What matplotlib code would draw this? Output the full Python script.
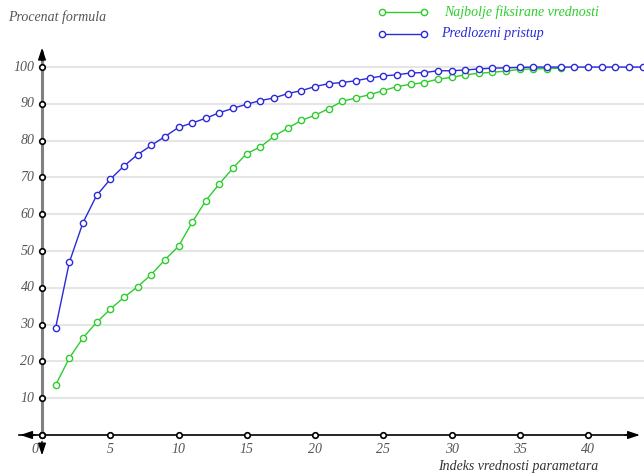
import matplotlib
matplotlib.use('Agg')
import matplotlib.pyplot as plt
from matplotlib.lines import Line2D
import numpy as np

plt.rcParams['font.family'] = ['Liberation Serif', 'DejaVu Serif']

# data
fixed_x = list(range(1, 39))
fixed_y = [13.6, 20.9, 26.4, 30.6, 34.2, 37.4, 40.3, 43.6, 47.6, 51.3,
           57.8, 63.7, 68.3, 72.6, 76.5, 78.3, 81.2, 83.4, 85.5, 86.9,
           88.7, 90.7, 91.6, 92.5, 93.6, 94.7, 95.3, 95.8, 96.7, 97.2,
           97.9, 98.3, 98.6, 98.9, 99.4, 99.5, 99.6, 99.7]
proposed_x = list(range(1, 45))
proposed_y = [29.2, 46.9, 57.7, 65.1, 69.5, 73.1, 76.2, 78.7, 81.1, 83.6,
              84.8, 86.1, 87.6, 88.8, 89.9, 90.9, 91.6, 92.8, 93.6, 94.7,
              95.5, 95.8, 96.3, 97.0, 97.6, 97.9, 98.4, 98.5, 99.0, 99.0,
              99.2, 99.5, 99.7, 99.8, 99.9, 100, 100, 100, 100, 100,
              100, 100, 100, 100]
x_ticks = [0, 5, 10, 15, 20, 25, 30, 35, 40]
y_ticks = [0, 10, 20, 30, 40, 50, 60, 70, 80, 90, 100]

green = '#2ecc2e'
blue = '#2a2ad8'
label_col = '#555555'
fs = 10

W, H = 644, 473
fig = plt.figure(figsize=(W / 100, H / 100), dpi=100)
ax = fig.add_axes([42 / W, (H - 435) / H, (W - 42) / W, (435 - 45) / H])
ax.set_xlim(0, 44.1)
ax.set_ylim(0, 106)
ax.axis('off')

# horizontal grid
for v in y_ticks[1:]:
    ax.plot([0, 44.1], [v, v], color='#e6e6e6', lw=1.5, zorder=1, clip_on=False)

# series
ax.plot(fixed_x, fixed_y, color=green, lw=1, marker='o', ms=4.5,
        mfc='white', mec=green, mew=1, zorder=3, clip_on=False)
ax.plot(proposed_x, proposed_y, color=blue, lw=1, marker='o', ms=4.5,
        mfc='white', mec=blue, mew=1, zorder=4, clip_on=False)

# axes with arrows
arrow = dict(arrowstyle='-|>,head_length=0.6,head_width=0.2', color='black',
             lw=1, mutation_scale=12)
ax.plot([0, 0], [0, 104], color='#808080', lw=2.2, zorder=2, clip_on=False)
ax.annotate('', xy=(0, 106), xytext=(0, 101), arrowprops=arrow,
            annotation_clip=False)
ax.plot([-1.7, 43.5], [0, 0], color='black', lw=1.2, zorder=2, clip_on=False)
ax.annotate('', xy=(44.0, 0), xytext=(42.5, 0), arrowprops=arrow,
            annotation_clip=False)
ax.annotate('', xy=(-1.8, 0), xytext=(-0.3, 0), arrowprops=arrow,
            annotation_clip=False)
ax.annotate('', xy=(0, -6.3), xytext=(0, -1), arrowprops=arrow,
            annotation_clip=False)

# tick circles and labels
ax.plot(x_ticks, [0] * len(x_ticks), 'o', ms=4, mfc='white', mec='black',
        mew=1.2, zorder=5, clip_on=False)
ax.plot([0] * len(y_ticks), y_ticks, 'o', ms=4, mfc='white', mec='black',
        mew=1.2, zorder=5, clip_on=False)
for v in x_ticks:
    xx = v - 0.5 if v == 0 else v
    ax.text(xx, -2.2, str(v), ha='center', va='top', fontsize=fs,
            style='italic', color=label_col)
for v in y_ticks[1:]:
    ax.text(-0.55, v, str(v), ha='right', va='center', fontsize=fs,
            style='italic', color=label_col)

fig.text(8 / W, 1 - 17 / H, 'Procenat formula', ha='left', va='center',
         fontsize=fs, style='italic', color=label_col)
fig.text(598 / W, 1 - 466 / H, 'Indeks vrednosti parametara', ha='right',
         va='center', fontsize=fs, style='italic', color='#333333')

# legend drawn by hand
for yy, col, txt, tx in [(12, green, 'Najbolje fiksirane vrednosti', 444),
                         (34, blue, 'Predlozeni pristup', 441)]:
    fig.add_artist(Line2D([382 / W, 424 / W], [1 - yy / H, 1 - yy / H],
                          color=col, lw=1, marker='o', ms=4.5, mfc='white',
                          mec=col, mew=1))
    fig.text(tx / W, 1 - yy / H, txt, ha='left', va='center', fontsize=fs,
             style='italic', color=col)

fig.savefig('out.png', dpi=100)
